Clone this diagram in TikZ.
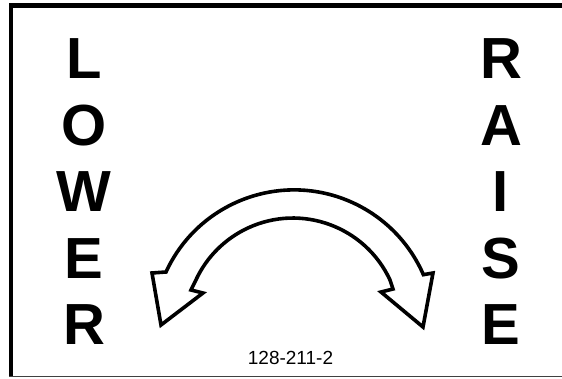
\documentclass[tikz,border=0pt]{standalone}
\usepackage{fontspec}
\setmainfont{Liberation Sans}
\begin{document}
\begin{tikzpicture}[x=1pt,y=1pt,
  bigletter/.style={font=\fontsize{58}{58}\selectfont\bfseries, anchor=base, inner sep=0pt},
  arrowline/.style={line width=3.6pt, line join=miter, miter limit=10}]
\useasboundingbox (0,0) rectangle (562,379);
% frame
\fill[black] (9,370.7) rectangle (562,375.8);
\fill[black] (9,1.5) rectangle (13.3,375.8);
\fill[black!75] (9,1.5) rectangle (562,3);
% LOWER
\node[bigletter] (l1) at (84,300) {L};
\node[bigletter] (l2) at (84,233.5) {O};
\node[bigletter] (l3) at (84,167) {W};
\node[bigletter] (l4) at (84,100.5) {E};
\node[bigletter] (l5) at (84,34) {R};
% RAISE
\node[bigletter] (r1) at (501,300) {R};
\node[bigletter] (r2) at (501,233.5) {A};
\node[bigletter] (r3) at (501,167) {I};
\node[bigletter] (r4) at (501,100.5) {S};
\node[bigletter] (r5) at (501,34) {E};
% label
\node[font=\fontsize{19}{19}\selectfont, anchor=base, inner sep=0pt] (lbl) at (290.5,14) {128-211-2};
% double curved arrow
\draw[arrowline] (166,107) arc[start angle=155.3, end angle=23.5, radius=141]
  -- (433,106) -- (423,52) -- (381,87) -- (393,90) -- (390,99)
  arc[start angle=24.9, end angle=155.1, radius=107]
  -- (191,89) -- (203,86) -- (161,54) -- (152,106) -- cycle;
\end{tikzpicture}
\end{document}
